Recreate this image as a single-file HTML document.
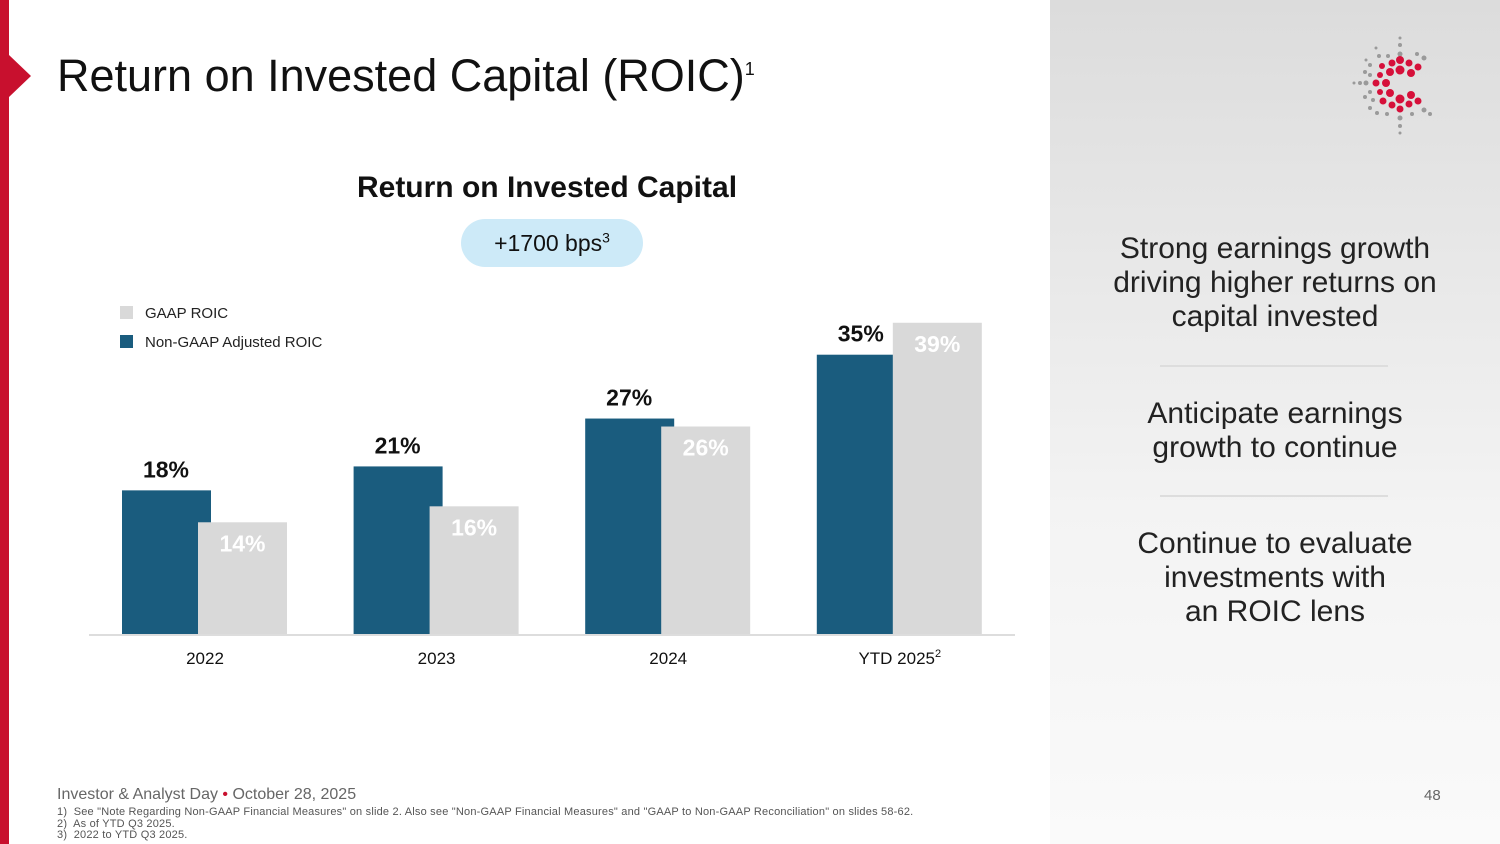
<!DOCTYPE html>
<html><head><meta charset="utf-8">
<style>
body{margin:0;width:1500px;height:844px;overflow:hidden;font-family:"Liberation Sans","DejaVu Sans",sans-serif;background:#fff;position:relative}
.abs{position:absolute}
</style></head><body>
<div class="abs" style="left:0;top:0;width:9px;height:844px;background:#c8102e"></div>
<div class="abs" style="left:9px;top:55px;width:0;height:0;border-top:21px solid transparent;border-bottom:21px solid transparent;border-left:22px solid #c8102e"></div>
<div class="abs" style="left:57px;top:50px;font-size:45px;color:#111">Return on Invested Capital (ROIC)<sup style="font-size:18px">1</sup></div>
<div class="abs" style="left:1050px;top:0;width:450px;height:844px;background:linear-gradient(#dcdcdc,#f3f3f3 60%,#fafafa)"></div>
<svg class="abs" style="left:1340px;top:30px" width="110" height="110" id="logo"></svg>
<div class="abs" style="left:1075px;top:232px;width:400px;text-align:center;font-size:30px;line-height:34px;color:#222">Strong earnings growth driving higher returns on capital invested</div>
<div class="abs" style="left:1160px;top:365px;width:228px;height:2px;background:#ddd"></div>
<div class="abs" style="left:1105px;top:397px;width:340px;text-align:center;font-size:30px;line-height:34px;color:#222">Anticipate earnings growth to continue</div>
<div class="abs" style="left:1160px;top:495px;width:228px;height:2px;background:#ddd"></div>
<div class="abs" style="left:1075px;top:527px;width:400px;text-align:center;font-size:30px;line-height:34px;color:#222">Continue to evaluate investments with<br>an ROIC lens</div>
<div class="abs" style="left:297px;top:171px;width:500px;text-align:center;font-size:30px;font-weight:bold;color:#111">Return on Invested Capital</div>
<div class="abs" style="left:461px;top:219px;width:182px;height:48px;border-radius:24px;background:#cdeaf8;text-align:center;line-height:48px;font-size:23px;color:#111">+1700 bps<sup style="font-size:14px;line-height:0">3</sup></div>
<div class="abs" style="left:120px;top:305px;font-size:15px;color:#222"><span style="display:inline-block;width:13px;height:13px;background:#d9d9d9;vertical-align:-1px;margin-right:12px"></span>GAAP ROIC</div>
<div class="abs" style="left:120px;top:334px;font-size:15px;color:#222"><span style="display:inline-block;width:13px;height:13px;background:#1a5c7e;vertical-align:-1px;margin-right:12px"></span>Non-GAAP Adjusted ROIC</div>
<svg class="abs" id="chart" style="left:0;top:0" width="1050" height="700"></svg>
<div class="abs" style="left:57px;top:786px;font-size:16px;color:#666">Investor &amp; Analyst Day <span style="color:#c8102e">•</span> October 28, 2025</div>
<div class="abs" style="left:57px;top:807px;font-size:11px;line-height:11.5px;color:#555;letter-spacing:0.2px">1)&nbsp; See "Note Regarding Non-GAAP Financial Measures" on slide 2. Also see "Non-GAAP Financial Measures" and "GAAP to Non-GAAP Reconciliation" on slides 58-62.<br>2)&nbsp; As of YTD Q3 2025.<br>3)&nbsp; 2022 to YTD Q3 2025.</div>
<div class="abs" style="left:1424px;top:787px;font-size:15px;color:#666">48</div>
<script>
const categories=["2022","2023","2024","YTD 2025"];
const nonGaap=[18,21,27,35];
const gaap=[14,16,26,39];
const superscripts=["","","","2"];
const NS="http://www.w3.org/2000/svg";
const svg=document.getElementById('chart');
const base=634, scale=7.98, x0=122, step=231.6, bw=89, off=76;
const y=v=>base-v*scale;
function mk(t,a){const e=document.createElementNS(NS,t);for(const k in a)e.setAttribute(k,a[k]);svg.appendChild(e);return e;}
const ax=mk('line',{x1:89,x2:1015,y1:base+1,y2:base+1,stroke:'#ddd','stroke-width':2});


categories.forEach((c,i)=>{
  const xd=x0+i*step, xg=xd+off;
  const b1=mk('rect',{x:xd,y:y(nonGaap[i]),width:bw,height:nonGaap[i]*scale,fill:'#1a5c7e'});
  
  
  const b2=mk('rect',{x:xg,y:y(gaap[i]),width:bw,height:gaap[i]*scale,fill:'#d9d9d9'});
  
  
  const l1=mk('text',{x:xd+44,y:y(nonGaap[i])-13,'text-anchor':'middle','font-size':23,'font-weight':'bold',fill:'#111'});
  l1.textContent=nonGaap[i]+'%';
  
  
  const l2=mk('text',{x:xg+44.5,y:y(gaap[i])+29,'text-anchor':'middle','font-size':23,'font-weight':'bold',fill:'#fff'});
  l2.textContent=gaap[i]+'%';
  
  
  const cl=mk('text',{x:xd+83,y:664,'text-anchor':'middle','font-size':17,fill:'#111'});
  cl.textContent=c;
  if(superscripts[i]){const s=document.createElementNS(NS,'tspan');s.setAttribute('dy','-7');s.setAttribute('font-size','11');s.textContent=superscripts[i];cl.appendChild(s);}
  
  
});
const lg=document.getElementById('logo');
const dots=[[60,8,1.5,'g'],[60,15,2,'g'],[60,24,2.5,'g'],[42,36,3,'r'],[52,33,3.5,'r'],[60,30,4,'r'],[69,33,3.5,'r'],[78,37,3.5,'r'],[50,42,4,'r'],[60,40,4.5,'r'],[71,43,4,'r'],[40,45,3,'r'],[36,53,3.5,'r'],[46,53,4,'r'],[40,62,3,'r'],[50,63,4,'r'],[43,71,3.5,'r'],[52,75,3.5,'r'],[60,69,4.5,'r'],[71,65,4,'r'],[69,74,3.5,'r'],[78,71,3.5,'r'],[60,79,3.5,'r'],[26,53,2.5,'g'],[20,53,2,'g'],[14,53,1.5,'g'],[30,45,2,'g'],[25,42,2,'g'],[30,35,2,'g'],[26,30,1.5,'g'],[30,62,2,'g'],[25,67,2,'g'],[33,70,2,'g'],[30,78,2,'g'],[37,83,2,'g'],[47,84,2,'g'],[60,88,2.5,'g'],[60,96,2,'g'],[60,103,1.5,'g'],[72,84,2,'g'],[84,80,2.5,'g'],[90,84,2,'g'],[84,28,2.5,'g'],[77,24,2,'g'],[48,26,2,'g'],[39,26,2,'g'],[36,18,1.5,'g']];
dots.forEach(d=>{const c=document.createElementNS(NS,'circle');c.setAttribute('cx',d[0]);c.setAttribute('cy',d[1]);c.setAttribute('r',d[2]);c.setAttribute('fill',d[3]=='r'?'#d6103a':'#9a9a9a');lg.appendChild(c);});
</script>
</body></html>
